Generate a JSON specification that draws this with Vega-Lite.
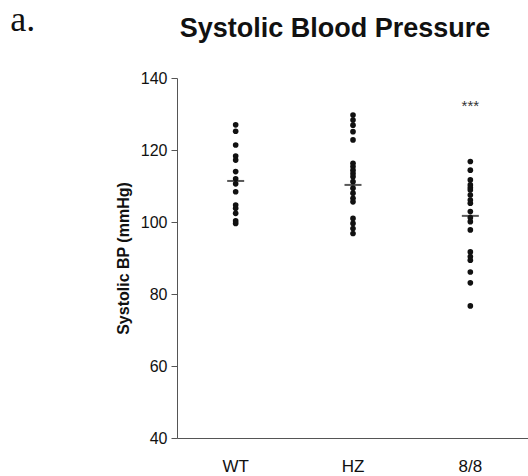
{
  "$schema": "https://vega.github.io/schema/vega-lite/v6.json",
  "background": "white",
  "padding": {"left": 10, "top": 2, "right": 0, "bottom": 5},
  "title": {"text": "a.", "anchor": "start", "frame": "bounds", "font": "Liberation Serif", "fontSize": 36, "fontWeight": "normal", "color": "#111", "dx": -105, "offset": -24},
  "datasets": {
    "dots": [
      {"group": "WT", "bp": 127.0}, {"group": "WT", "bp": 125.2}, {"group": "WT", "bp": 121.4}, {"group": "WT", "bp": 118.3},
      {"group": "WT", "bp": 117.2}, {"group": "WT", "bp": 114.0}, {"group": "WT", "bp": 112.0}, {"group": "WT", "bp": 110.6},
      {"group": "WT", "bp": 108.4}, {"group": "WT", "bp": 104.7}, {"group": "WT", "bp": 103.8}, {"group": "WT", "bp": 102.4},
      {"group": "WT", "bp": 100.3}, {"group": "WT", "bp": 99.6},
      {"group": "HZ", "bp": 129.7}, {"group": "HZ", "bp": 128.3}, {"group": "HZ", "bp": 126.9}, {"group": "HZ", "bp": 125.1},
      {"group": "HZ", "bp": 122.8}, {"group": "HZ", "bp": 116.3}, {"group": "HZ", "bp": 115.4}, {"group": "HZ", "bp": 114.4},
      {"group": "HZ", "bp": 113.5}, {"group": "HZ", "bp": 112.6}, {"group": "HZ", "bp": 111.2}, {"group": "HZ", "bp": 109.4},
      {"group": "HZ", "bp": 108.0}, {"group": "HZ", "bp": 106.6}, {"group": "HZ", "bp": 105.6}, {"group": "HZ", "bp": 101.0},
      {"group": "HZ", "bp": 99.6}, {"group": "HZ", "bp": 98.2}, {"group": "HZ", "bp": 96.8},
      {"group": "8/8", "bp": 116.8}, {"group": "8/8", "bp": 114.4}, {"group": "8/8", "bp": 111.7}, {"group": "8/8", "bp": 110.3},
      {"group": "8/8", "bp": 109.5}, {"group": "8/8", "bp": 108.9}, {"group": "8/8", "bp": 107.5}, {"group": "8/8", "bp": 106.1},
      {"group": "8/8", "bp": 105.2}, {"group": "8/8", "bp": 102.9}, {"group": "8/8", "bp": 101.2}, {"group": "8/8", "bp": 100.1},
      {"group": "8/8", "bp": 97.8}, {"group": "8/8", "bp": 91.7}, {"group": "8/8", "bp": 90.4}, {"group": "8/8", "bp": 89.4},
      {"group": "8/8", "bp": 86.1}, {"group": "8/8", "bp": 83.1}, {"group": "8/8", "bp": 76.7}
    ],
    "means": [
      {"group": "WT", "mean": 111.4},
      {"group": "HZ", "mean": 110.3},
      {"group": "8/8", "mean": 101.7}
    ],
    "sig": [
      {"group": "8/8", "bp": 132.3, "label": "***"}
    ]
  },
  "vconcat": [
    {
      "width": 352,
      "height": 360,
      "title": {"text": "Systolic Blood Pressure", "font": "Liberation Sans", "fontSize": 27, "fontWeight": "bold", "color": "#111", "dx": -18, "offset": 27},
      "layer": [
        {
          "data": {"name": "dots"},
          "mark": {"type": "point", "filled": true, "size": 32, "color": "#111", "opacity": 1},
          "encoding": {
            "x": {"field": "group", "type": "nominal", "sort": ["WT", "HZ", "8/8"]},
            "y": {"field": "bp", "type": "quantitative"}
          }
        },
        {
          "data": {"name": "means"},
          "mark": {"type": "tick", "size": 17, "thickness": 2, "color": "#111"},
          "encoding": {
            "x": {"field": "group", "type": "nominal", "sort": ["WT", "HZ", "8/8"]},
            "y": {"field": "mean", "type": "quantitative"}
          }
        },
        {
          "data": {"name": "sig"},
          "mark": {"type": "text", "fontSize": 15, "font": "Liberation Sans", "color": "#333"},
          "encoding": {
            "x": {"field": "group", "type": "nominal", "sort": ["WT", "HZ", "8/8"]},
            "y": {"field": "bp", "type": "quantitative"},
            "text": {"field": "label"}
          }
        }
      ],
      "encoding": {
        "x": {"field": "group", "type": "nominal", "sort": ["WT", "HZ", "8/8"],
              "scale": {"paddingInner": 0, "paddingOuter": 0, "padding": 0.5},
              "axis": {"title": null, "labelAngle": 0, "ticks": false, "labelPadding": 20, "labelFontSize": 17}},
        "y": {"type": "quantitative",
              "scale": {"domain": [40, 140], "nice": false, "zero": false},
              "axis": {"title": "Systolic BP (mmHg)", "values": [40, 60, 80, 100, 120, 140], "grid": false, "tickSize": 6, "labelPadding": 4, "titlePadding": 9}}
      }
    }
  ],
  "config": {
    "view": {"stroke": null},
    "concat": {"spacing": 0},
    "axis": {
      "labelFont": "Liberation Sans", "labelFontSize": 16, "labelColor": "#111",
      "titleFont": "Liberation Sans", "titleFontSize": 16, "titleFontWeight": "bold", "titleColor": "#111",
      "domainColor": "#555", "tickColor": "#555"
    }
  }
}
